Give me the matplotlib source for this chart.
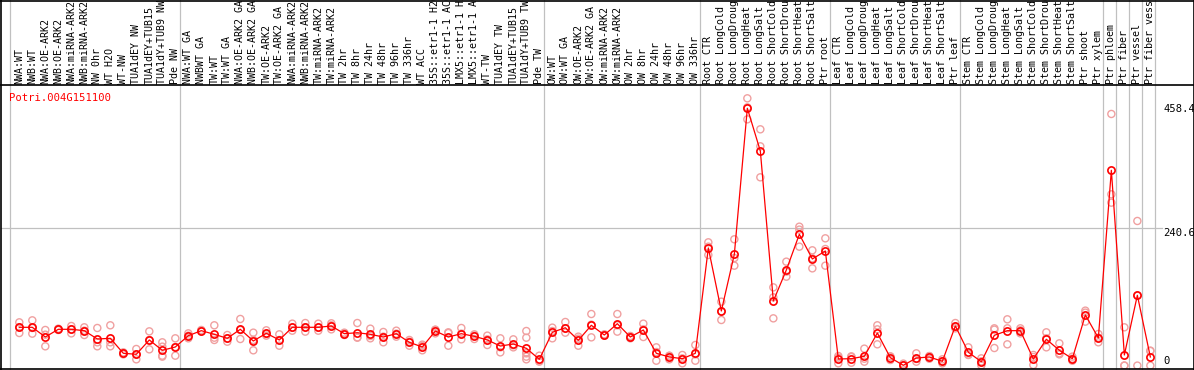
import matplotlib
matplotlib.use("Agg")
import matplotlib.pyplot as plt
from matplotlib.transforms import blended_transform_factory
from matplotlib.lines import Line2D

# ---------------- data ----------------
gene = "Potri.004G151100"

samples = [
    "NWA:WT", "NWB:WT", "NWA:OE-ARK2", "NWB:OE-ARK2", "NWA:miRNA-ARK2", "NWB:miRNA-ARK2",
    "NW 0hr", "WT H2O", "WT-NW", "TUA1dEY NW", "TUA1dEY+TUB15", "TUA1dY+TUB9 NW", "Pde NW",
    "NWA:WT GA", "NWBWT GA", "TW:WT", "TW:WT GA", "NWA:OE-ARK2 GA", "NWB:OE-ARK2 GA",
    "TW:OE-ARK2", "TW:OE-ARK2 GA", "NWA:miRNA-ARK2", "NWB:miRNA-ARK2", "TW:miRNA-ARK2",
    "TW:miRNA-ARK2", "TW 2hr", "TW 8hr", "TW 24hr", "TW 48hr", "TW 96hr", "TW 336hr",
    "WT ACC", "35S::etr1-1 H2O", "35S::etr1-1 ACC", "LMX5::etr1-1 H2O", "LMX5::etr1-1 ACC",
    "WT-TW", "TUA1dEY TW", "TUA1dEY+TUB15", "TUA1dY+TUB9 TW", "Pde TW",
    "OW:WT", "OW:WT GA", "OW:OE-ARK2", "OW:OE-ARK2 GA", "OW:miRNA-ARK2", "OW:miRNA-ARK2",
    "OW 2hr", "OW 8hr", "OW 24hr", "OW 48hr", "OW 96hr", "OW 336hr",
    "Root CTR", "Root LongCold", "Root LongDrought", "Root LongHeat", "Root LongSalt",
    "Root ShortCold", "Root ShortDrought", "Root ShortHeat", "Root ShortSalt", "Ptr root",
    "Leaf CTR", "Leaf LongCold", "Leaf LongDrought", "Leaf LongHeat", "Leaf LongSalt",
    "Leaf ShortCold", "Leaf ShortDrought", "Leaf ShortHeat", "Leaf ShortSalt", "Ptr leaf",
    "Stem CTR", "Stem LongCold", "Stem LongDrought", "Stem LongHeat", "Stem LongSalt",
    "Stem ShortCold", "Stem ShortDrought", "Stem ShortHeat", "Stem ShortSalt",
    "Ptr shoot", "Ptr xylem", "Ptr phloem", "Ptr fiber", "Ptr vessel", "Ptr fiber vessel",
]

mean_values = [
    67.1, 67.1, 50.1, 63.6, 63.6, 61.2, 46.6, 47.8, 21.6, 19.8, 44.9, 26.8, 32.6,
    52.4, 61.2, 54.8, 47.8, 63.6, 43.1, 56.6, 44.9, 67.1, 67.1, 67.1, 69.4, 55.9,
    57.6, 54.8, 50.1, 55.9, 40.8, 32.6, 60.6, 50.1, 55.9, 51.3, 44.9, 34.3, 37.8,
    30.3, 11.0,
    58.3, 66.4, 44.3, 70.6, 53.6, 73.4, 50.1, 62.4, 21.6, 15.1, 12.1, 21.6,
    206.1, 95.7, 195.0, 450.9, 376.0, 113.2, 167.5, 230.1, 186.8, 200.8,
    11.6, 12.1, 16.3, 57.1, 13.8, 0.5, 13.3, 15.1, 7.5, 69.4,
    23.3, 6.8, 53.1, 61.2, 61.2, 11.6, 46.1, 26.8, 12.1, 88.7, 48.4,
    342.2, 18.6, 123.2, 15.1,
]

replicates = [
    [75.8, 67.1, 57.1], [79.3, 65.9, 56.0], [62.4, 54.2, 33.8], [64.7, 63.5, 62.4],
    [69.4, 63.5, 56.5], [67.1, 61.2, 53.6], [65.9, 40.8, 33.8], [70.6, 40.8, 33.8],
    [23.2, 21.5, 19.7], [29.1, 19.7, 11.0], [60.0, 44.9, 28.5], [40.8, 33.2, 17.4, 15.7],
    [47.8, 32.6, 17.4],
    [56.5, 52.5, 47.8], [62.4, 61.2, 60.0], [70.6, 48.9, 44.9], [53.6, 47.8, 41.9],
    [81.7, 62.4, 46.6], [57.7, 44.9, 26.8], [61.8, 55.4, 52.5], [54.8, 44.9, 34.9],
    [73.5, 66.5, 61.2], [74.6, 67.1, 59.5], [73.5, 66.5, 61.2], [74.1, 70.6, 63.5],
    [57.7, 56.5, 53.6], [74.6, 49.5, 48.9], [64.7, 51.9, 47.8], [58.9, 50.7, 40.8],
    [61.2, 56.0, 50.7], [44.9, 41.9, 34.9], [36.7, 34.3, 26.8], [63.0, 62.4, 56.5],
    [58.3, 57.1, 34.9], [65.9, 56.0, 46.0], [54.8, 52.5, 46.6], [52.5, 46.0, 36.1],
    [47.8, 32.0, 23.2], [46.0, 35.5, 32.0], [60.6, 48.9, 22.7, 21.5, 15.7, 11.0],
    [17.4, 8.6, 6.9],
    [66.5, 60.6, 47.8], [76.4, 65.3, 57.7], [50.7, 47.2, 34.9], [90.4, 71.7, 49.5],
    [54.8, 53.6, 52.5], [90.4, 70.6, 59.5], [51.9, 50.7, 47.8], [73.5, 63.5, 50.1],
    [32.0, 23.8, 8.6], [17.4, 16.8, 11.0], [18.6, 12.7, 4.0], [36.1, 19.7, 8.6],
    [216.0, 208.4, 193.8], [112.0, 95.1, 79.9], [221.3, 188.5, 175.1],
    [468.3, 452.5, 431.5], [414.0, 384.2, 329.9], [137.1, 119.6, 82.8],
    [182.1, 164.6, 155.8], [243.4, 238.2, 208.4], [202.0, 188.0, 170.4],
    [223.0, 204.3, 175.1],
    [16.8, 13.9, 4.0], [16.2, 15.1, 5.1], [29.7, 12.1, 6.9], [70.6, 63.5, 37.3],
    [16.2, 15.7, 9.8], [3.5, 0.0, 0.0], [21.5, 11.6, 6.9], [16.8, 16.2, 12.1],
    [11.0, 7.5, 4.0], [74.6, 68.2, 65.3],
    [32.0, 19.2, 18.6], [12.7, 7.5, 0.5], [65.3, 63.0, 30.8], [81.1, 65.3, 37.3],
    [65.3, 61.8, 56.5], [18.6, 15.1, 1.1], [58.3, 47.8, 32.0], [39.0, 21.5, 19.7],
    [15.7, 12.1, 8.6], [96.3, 92.8, 77.0], [55.4, 48.9, 40.8],
    [440.9, 300.1, 285.5], [67.1, 0.0, 0.0], [253.4, 122.5, 0.0], [26.2, 25.6, 0.0],
]

y_tick_values = [458.4, 240.6, 0]
y_tick_labels = ["458.4", "240.6", "0"]
group_edges = [-0.715, 12.36, 40.36, 52.36, 62.36, 72.36, 83.36, 84.36, 85.36, 86.36, 87.36]

# ---------------- figure ----------------
W, H = 1194, 370
fig = plt.figure(figsize=(W / 100, H / 100), dpi=100)
mono = "DejaVu Sans Mono"

def fx(px):
    return px / W

def fy(py):
    return (H - py) / H

ax = fig.add_axes([fx(1), fy(369), fx(1193) - fx(1), fy(86) - fy(369)])
ax.set_xlim(-1.408, 90.28)
ax.set_ylim(-5.96, 489.9)
ax.axis("off")

grey = "#c0c0c0"
red = "#ff0000"
pink = "#f0a0a0"

bx = blended_transform_factory(ax.transData, fig.transFigure)
by = blended_transform_factory(fig.transFigure, ax.transData)

# vertical group separators through header and plot
for e in group_edges:
    ax.plot([e, e], [0, 1], transform=bx, color=grey, lw=0.9, clip_on=False, zorder=1)

# horizontal grid line
ax.plot([fx(1), fx(1162)], [240.6, 240.6], transform=by, color=grey, lw=0.9,
        clip_on=False, zorder=1)

xs = list(range(len(samples)))

# replicates
rx, ry = [], []
for i, reps in enumerate(replicates):
    for v in reps:
        rx.append(i)
        ry.append(v)
ax.scatter(rx, ry, s=26, facecolors="none", edgecolors=pink, linewidths=1.0, zorder=2)

# mean line + markers
ax.plot(xs, mean_values, color=red, lw=0.9, zorder=3)
ax.plot(xs, mean_values, linestyle="none", marker="o", markersize=5.2,
        markerfacecolor="none", markeredgecolor=red, markeredgewidth=1.2, zorder=4)

# header labels
for i, lab in enumerate(samples):
    ax.text(i, fy(84), lab, transform=bx, rotation=90, ha="center", va="bottom",
            fontsize=7.2, family=mono, color="black", clip_on=False)

# gene label
fig.text(fx(9), fy(93), gene, ha="left", va="top", fontsize=7.6, family=mono, color=red)

# right value labels
for v, lab in zip(y_tick_values, y_tick_labels):
    ax.text(fx(1163), v, lab, transform=by, ha="left",
            va="bottom" if v == 0 else "top", fontsize=7.6, family=mono, color="black",
            clip_on=False)

# black frame and header separator
def fline(x0, y0, x1, y1, lw=1.2):
    fig.add_artist(Line2D([fx(x0), fx(x1)], [fy(y0), fy(y1)], color="black", lw=lw,
                          transform=fig.transFigure))

fline(0, 85, W, 85)
fline(0.5, 0, 0.5, H)
fline(W - 0.5, 0, W - 0.5, H)
fline(0, 0.5, W, 0.5)
fline(0, 369, W, 369)

fig.savefig("out.png", dpi=100)
